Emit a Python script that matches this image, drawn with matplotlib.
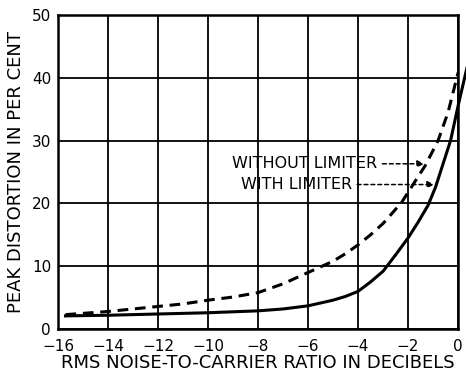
import numpy as np
import matplotlib.pyplot as plt

# values
x_without = [-15.7, -15, -14, -13, -12, -11, -10, -9, -8, -7, -6, -5.5, -5, -4.5, -4,
             -3.5, -3, -2.6, -2.25, -1.8, -1.3, -0.8, -0.4, 0.0]
y_without = [2.3, 2.5, 2.8, 3.2, 3.6, 4.0, 4.6, 5.1, 5.8, 7.2, 9.0, 9.9, 10.8, 12.0, 13.4,
             15.0, 16.8, 18.6, 20.2, 23.0, 26.1, 30.0, 34.5, 40.8]
x_with = [-15.7, -14, -12, -10, -8, -7, -6, -5, -4.5, -4, -3.5, -3, -2.5, -2, -1.6,
          -1.2, -0.9, -0.6, -0.3, 0.0, 0.35]
y_with = [2.1, 2.2, 2.4, 2.6, 2.9, 3.2, 3.7, 4.6, 5.2, 6.0, 7.5, 9.2, 11.8, 14.5, 17.0,
          19.7, 22.6, 26.3, 30.0, 35.5, 41.5]

xticks = [-16, -14, -12, -10, -8, -6, -4, -2, 0]
xtick_labels = ["\u221216", "\u221214", "\u221212", "\u221210", "\u22128", "\u22126", "\u22124", "\u22122", "0"]
yticks = [0, 10, 20, 30, 40, 50]

plt.rcParams['font.family'] = ['DejaVu Sans']

fig = plt.figure(figsize=(4.66, 3.71), dpi=100)
ax = fig.add_axes([0.1245, 0.113, 0.8585, 0.847])

ax.plot(x_without, y_without, color="black", lw=2.2, linestyle=(0, (3.5, 2.2)), clip_on=False)
ax.plot(x_with, y_with, color="black", lw=2.2, clip_on=False)

ax.set_xlim(-16, 0)
ax.set_ylim(0, 50)
ax.set_xticks(xticks)
ax.set_xticklabels(xtick_labels)
ax.set_yticks(yticks)
ax.grid(True, color="black", lw=1.3)
ax.tick_params(length=0, labelsize=11, pad=5)
ax.tick_params(axis="x", pad=7)
for s in ax.spines.values():
    s.set_linewidth(1.8)

ax.set_xlabel("RMS NOISE-TO-CARRIER RATIO IN DECIBELS", fontsize=13, labelpad=0)
ax.set_ylabel("PEAK DISTORTION IN PER CENT", fontsize=13, labelpad=5)

ax.annotate("WITHOUT LIMITER", xy=(-1.35, 26.3), xytext=(-9.05, 26.3),
            fontsize=11.5, va="center", ha="left",
            arrowprops=dict(arrowstyle="-|>", linestyle=(0, (2.5, 2)), color="black", lw=1.1,
                            shrinkA=2, shrinkB=0, mutation_scale=10))
ax.annotate("WITH LIMITER", xy=(-0.95, 23.0), xytext=(-8.7, 23.0),
            fontsize=11.5, va="center", ha="left",
            arrowprops=dict(arrowstyle="-|>", linestyle=(0, (2.5, 2)), color="black", lw=1.1,
                            shrinkA=2, shrinkB=0, mutation_scale=10))

fig.savefig("out.png", dpi=100)
